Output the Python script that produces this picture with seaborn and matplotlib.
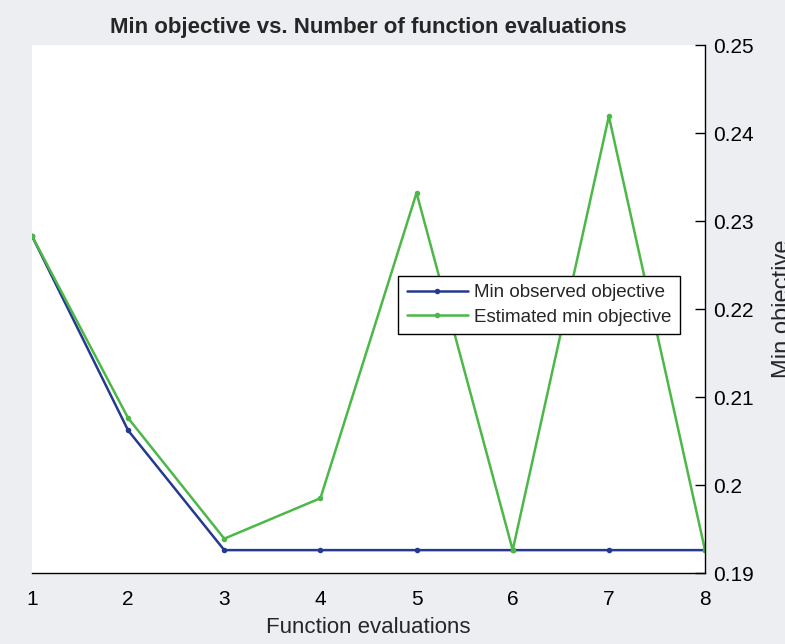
import numpy as np
import pandas as pd
import matplotlib
matplotlib.use("Agg")
import matplotlib.pyplot as plt
import seaborn as sns

# values
evaluations = [1, 2, 3, 4, 5, 6, 7, 8]
min_observed = [0.2283, 0.2062, 0.1926, 0.1926, 0.1926, 0.1926, 0.1926, 0.1926]
estimated_min = [0.2283, 0.2076, 0.1939, 0.1985, 0.2332, 0.1926, 0.2419, 0.1926]
y_ticks = [0.19, 0.2, 0.21, 0.22, 0.23, 0.24, 0.25]
y_tick_labels = ["0.19", "0.2", "0.21", "0.22", "0.23", "0.24", "0.25"]

df = pd.DataFrame({
    "Function evaluations": evaluations * 2,
    "Min objective": min_observed + estimated_min,
    "series": ["Min observed objective"] * 8 + ["Estimated min objective"] * 8,
})

sns.set_style("white")
plt.rcParams["font.family"] = ["Liberation Sans", "DejaVu Sans"]

fig = plt.figure(figsize=(7.85, 6.44), dpi=100, facecolor="#eceef1")
ax = fig.add_axes([32 / 785, 1 - 573 / 644, 673 / 785, 528 / 644])
ax.set_facecolor("white")

palette = {"Min observed objective": "#253a8e", "Estimated min objective": "#4cb848"}
sns.lineplot(data=df, x="Function evaluations", y="Min objective", hue="series",
             palette=palette, marker="o", markersize=4, markeredgewidth=0,
             linewidth=1.8, ax=ax)

ax.set_xlim(1, 8)
ax.set_ylim(0.19, 0.25)
ax.set_xticks(evaluations)
ax.set_yticks(y_ticks)
ax.set_yticklabels(y_tick_labels)
ax.yaxis.tick_right()
ax.yaxis.set_label_position("right")

for side in ["top", "left"]:
    ax.spines[side].set_visible(False)
for side in ["bottom", "right"]:
    ax.spines[side].set_color("black")
    ax.spines[side].set_linewidth(1.0)

ax.tick_params(axis="both", direction="in", length=7, width=1, labelsize=15,
               colors="black", pad=6)
ax.tick_params(axis="x", pad=12)
ax.set_xlabel("Function evaluations", fontsize=16, labelpad=6)
ax.set_ylabel("Min objective", fontsize=17, labelpad=13)
ax.set_title("Min objective vs. Number of function evaluations",
             fontsize=16, fontweight="bold", pad=9)

leg = ax.legend(loc="upper left", bbox_to_anchor=(0.544, 0.563), fontsize=13.5,
                frameon=True, fancybox=False, edgecolor="black",
                handlelength=3.3, borderpad=0.45, labelspacing=0.4,
                handletextpad=0.3, borderaxespad=0)
leg.get_frame().set_linewidth(1.0)
leg.get_frame().set_alpha(1)

fig.savefig("out.png", dpi=100, facecolor=fig.get_facecolor())
